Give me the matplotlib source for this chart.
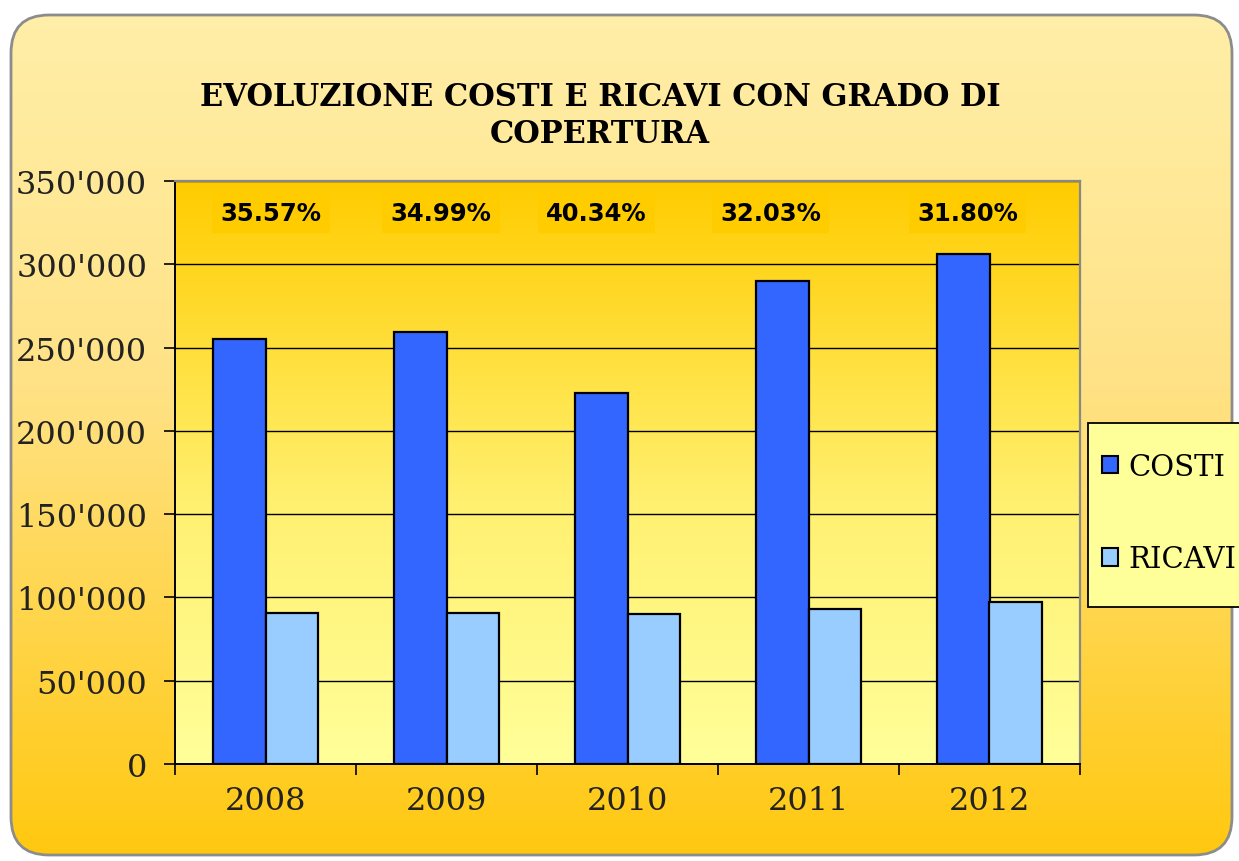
import numpy as np
import matplotlib.pyplot as plt
from matplotlib.patches import FancyBboxPatch, Patch, Rectangle
from matplotlib.colors import LinearSegmentedColormap

anni = ['2008', '2009', '2010', '2011', '2012']
costi = [255100, 259300, 222700, 290000, 306200]
ricavi = [90750, 90750, 89850, 92900, 97350]
copertura = ['35.57%', '34.99%', '40.34%', '32.03%', '31.80%']
# x offsets of the percentage labels, relative to the category centre
label_dx = [0.03, -0.03, -0.17, -0.21, -0.12]

W, H = 1239, 862
fig = plt.figure(figsize=(W / 100, H / 100), dpi=100)
fig.patch.set_facecolor('white')

# rounded background with gradient
bg = fig.add_axes([0, 0, 1, 1])
bg.set_xlim(0, W)
bg.set_ylim(H, 0)
bg.axis('off')
bg_cmap = LinearSegmentedColormap.from_list(
    'bg', [(0, '#FFEFAA'), (0.45, '#FFE285'), (1, '#FFC80E')])
grad = np.linspace(0, 1, 256).reshape(-1, 1)
im = bg.imshow(grad, cmap=bg_cmap, extent=[0, W, H, 0], aspect='auto')
box = FancyBboxPatch((11, 16), W - 18, H - 22,
                     boxstyle='round,pad=0,rounding_size=38',
                     facecolor='none', edgecolor='#8C8C8C', linewidth=2)
bg.add_patch(box)
im.set_clip_path(box)

ax = fig.add_axes([175 / W, 1 - 765 / H, (1080 - 175) / W, (765 - 182) / H])
ax.set_xlim(-0.5, 4.5)
ax.set_ylim(0, 350000)

# plot area gradient
pa_cmap = LinearSegmentedColormap.from_list(
    'pa', [(0, '#FFCC00'), (0.55, '#FFF070'), (1, '#FFFF99')])
ax.imshow(grad, cmap=pa_cmap, extent=[0, 1, 0, 1], aspect='auto',
          transform=ax.transAxes, zorder=0)

x = np.arange(len(anni))
bw = 0.29
ax.bar(x - bw / 2, costi, bw, color='#3366FF', edgecolor='black',
       linewidth=1.6, zorder=3, label='COSTI')
ax.bar(x + bw / 2, ricavi, bw, color='#99CCFF', edgecolor='black',
       linewidth=1.6, zorder=3, label='RICAVI')

for v in range(50000, 350001, 50000):
    ax.axhline(v, color='black', linewidth=1.0, zorder=1)

for i, txt in enumerate(copertura):
    ax.text(x[i] + label_dx[i], 331000, txt, ha='center', va='center',
            fontsize=17.5, fontweight='bold', family='DejaVu Sans',
            bbox=dict(facecolor='#FFCC00', edgecolor='none', pad=6), zorder=4)

yt = np.arange(0, 350001, 50000)
ax.set_yticks(yt)
ax.set_yticklabels([f"{v:,.0f}".replace(',', "'") for v in yt],
                   family='DejaVu Serif', fontsize=23, color='#222222')
ax.set_xticks(np.arange(-0.5, 4.6, 1.0))
ax.set_xticklabels([])
ax.set_xticks(x, minor=True)
ax.set_xticklabels(anni, minor=True, family='DejaVu Serif', fontsize=23,
                   color='#222222')
ax.tick_params(axis='y', direction='out', length=8, width=1.2, pad=12)
ax.tick_params(axis='x', which='major', direction='out', length=8, width=1.2)
ax.tick_params(axis='x', which='minor', length=0, pad=15)

for s in ['left', 'bottom']:
    ax.spines[s].set_color('black')
    ax.spines[s].set_linewidth(1.4)
for s in ['top', 'right']:
    ax.spines[s].set_color('#888888')
    ax.spines[s].set_linewidth(1.6)

fig.text(600 / W, 1 - 116 / H,
         'EVOLUZIONE COSTI E RICAVI CON GRADO DI\nCOPERTURA',
         ha='center', va='center', fontsize=22, fontweight='bold',
         family='DejaVu Serif', linespacing=1.22)

# legend frame, runs off the right edge like the original
fig.patches.append(Rectangle((1088 / W, 1 - 608 / H), (1260 - 1088) / W,
                             (608 - 424) / H, transform=fig.transFigure,
                             facecolor='#FFFF99', edgecolor='black',
                             linewidth=1.3, zorder=1))
handles = [Patch(facecolor='#3366FF', edgecolor='black', linewidth=1.5),
           Patch(facecolor='#99CCFF', edgecolor='black', linewidth=1.5)]
leg = fig.legend(handles, ['COSTI', 'RICAVI'], loc='upper left',
                 bbox_to_anchor=(1102 / W, 1 - 454 / H), borderaxespad=0,
                 borderpad=0, frameon=False,
                 prop={'family': 'DejaVu Serif', 'size': 21},
                 handlelength=0.55, handleheight=0.55, handletextpad=0.35,
                 labelspacing=2.2)

fig.savefig('out.png', dpi=100)
